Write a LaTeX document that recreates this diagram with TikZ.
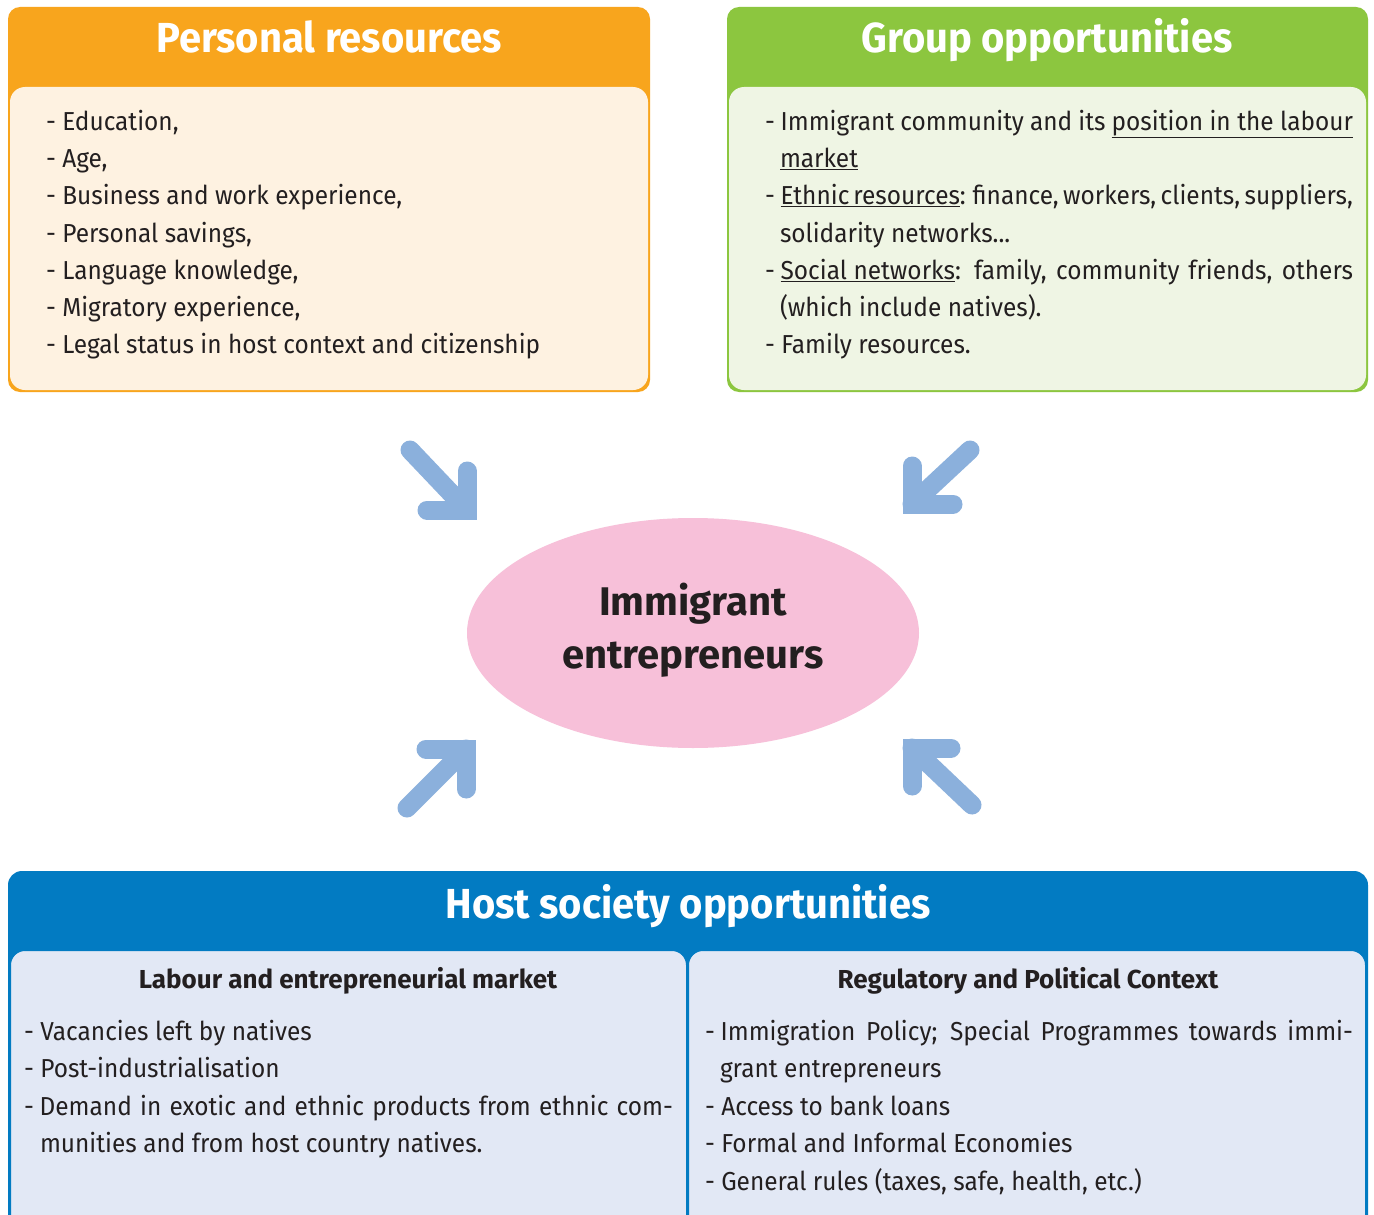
\documentclass[tikz,border=0pt]{standalone}
\usepackage{fontspec}
\setmainfont[FakeStretch=0.94]{Fira Sans}
\newfontfamily\headfont[FakeStretch=0.95]{Fira Sans}
\newfontfamily\plainfont{Fira Sans}
\usetikzlibrary{shapes.geometric}
\definecolor{orangeH}{HTML}{F8A51D}
\definecolor{creamP}{HTML}{FEF2E1}
\definecolor{greenH}{HTML}{8CC63F}
\definecolor{greenP}{HTML}{EFF5E4}
\definecolor{blueH}{HTML}{027BC2}
\definecolor{blueP}{HTML}{E2E8F5}
\definecolor{pinkE}{HTML}{F7C0D9}
\definecolor{arrowB}{HTML}{8BB0DC}
\definecolor{ink}{HTML}{231F20}
\newcommand\dsh{\mbox{-\kern5.8pt}}
\begin{document}
\begin{tikzpicture}[x=1pt,y=-1pt,
  every node/.style={inner sep=0pt, outer sep=0pt},
  boxouter/.style={rounded corners=12pt, anchor=north west},
  panel/.style={rounded corners=15pt, anchor=north west},
  titletext/.style={anchor=base, text=white, font=\headfont\bfseries\fontsize{42}{50}\selectfont},
  subhead/.style={anchor=base, text=ink, font=\plainfont\bfseries\fontsize{26}{30}\selectfont},
  centretext/.style={anchor=base, text=ink, font=\plainfont\bfseries\fontsize{40}{48}\selectfont},
  body/.style={anchor=base west, text=ink, font=\fontsize{26}{30}\selectfont},
  arrowline/.style={draw=arrowB, line width=19pt, line cap=round, line join=miter}
]
\clip (0,0) rectangle (1374,1215);
\fill[white] (0,0) rectangle (1374,1215);

% ---------- Personal resources ----------
\node[boxouter, fill=orangeH, minimum width=642pt, minimum height=385pt] (pr) at (8,7) {};
\node[panel, fill=creamP, minimum width=638pt, minimum height=303pt] (prp) at (10,87) {};
\node[titletext] (prt) at (329,53) {Personal resources};
\node[body] (pr1) at (46,130) {- Education,};
\node[body] (pr2) at (46,167) {- Age,};
\node[body] (pr3) at (46,204) {- Business and work experience,};
\node[body] (pr4) at (46,242) {- Personal savings,};
\node[body] (pr5) at (46,279) {- Language knowledge,};
\node[body] (pr6) at (46,316) {- Migratory experience,};
\node[body] (pr7) at (46,353) {- Legal status in host context and citizenship};

% ---------- Group opportunities ----------
\node[boxouter, fill=greenH, minimum width=641pt, minimum height=385pt] (go) at (727,7) {};
\node[panel, fill=greenP, minimum width=637pt, minimum height=303pt] (gop) at (729,87) {};
\node[titletext] (got) at (1047,53) {Group opportunities};
\node[body] (go1) at (765,130) {\makebox[588pt][s]{\dsh Immigrant community and its \underline{position in the labour}}};
\node[body] (go2) at (780,167) {\underline{market}};
\node[body] (go3) at (765,204) {\makebox[588pt][s]{\spaceskip=4pt plus 20pt minus 1pt\dsh\underline{Ethnic resources}: finance, workers, clients, suppliers,}};
\node[body] (go4) at (780,242) {solidarity networks...};
\node[body] (go5) at (765,279) {\makebox[588pt][s]{\dsh\underline{Social\ networks}: family, community friends, others}};
\node[body] (go6) at (780,316) {(which include natives).};
\node[body] (go7) at (765,353) {- Family resources.};

% ---------- Centre ----------
\node[ellipse, fill=pinkE, minimum width=452pt, minimum height=230pt] (ie) at (693,633) {};
\node[centretext] (ie1) at (693,615) {Immigrant};
\node[centretext] (ie2) at (693,668) {entrepreneurs};

% ---------- Arrows ----------
\coordinate (a1s) at (410,450); \coordinate (a1c) at (467,510);
\coordinate (a1h) at (427,510); \coordinate (a1v) at (467,471);
\coordinate (a2s) at (970,450); \coordinate (a2c) at (912,504);
\coordinate (a2h) at (953,504); \coordinate (a2v) at (912,466);
\coordinate (a3s) at (407,808); \coordinate (a3c) at (466,749);
\coordinate (a3h) at (426,749); \coordinate (a3v) at (466,789);
\coordinate (a4s) at (972,805); \coordinate (a4c) at (912,748);
\coordinate (a4h) at (951,748); \coordinate (a4v) at (912,786);
\foreach \a in {a1,a2,a3,a4}{
  \draw[arrowline] (\a s) -- (\a c);
  \draw[arrowline] (\a h) -- (\a c) -- (\a v);
}

% ---------- Host society opportunities ----------
\node[boxouter, fill=blueH, minimum width=1360pt, minimum height=400pt, rounded corners=14pt] (hs) at (8,871) {};
\node[panel, fill=blueP, draw=blueH, line width=2pt, minimum width=677pt, minimum height=320pt] (hsl) at (10,950) {};
\node[panel, fill=blueP, draw=blueH, line width=2pt, minimum width=678pt, minimum height=320pt] (hsr) at (688,950) {};
\node[titletext] (hst) at (688,918) {Host society opportunities};

\node[subhead] (hl0) at (348,988) {Labour and entrepreneurial market};
\node[body] (hl1) at (24,1040) {- Vacancies left by natives};
\node[body] (hl2) at (24,1077) {- Post-industrialisation};
\node[body] (hl3) at (24,1115) {\makebox[649pt][s]{\dsh Demand in exotic and ethnic products from ethnic com-}};
\node[body] (hl4) at (40,1152) {munities and from host country natives.};

\node[subhead] (hr0) at (1028,988) {Regulatory and Political Context};
\node[body] (hr1) at (705,1040) {\makebox[648pt][s]{\dsh Immigration Policy; Special Programmes towards immi-}};
\node[body] (hr2) at (720,1077) {grant entrepreneurs};
\node[body] (hr3) at (705,1115) {- Access to bank loans};
\node[body] (hr4) at (705,1152) {- Formal and Informal Economies};
\node[body] (hr5) at (705,1190) {- General rules (taxes, safe, health, etc.)};
\end{tikzpicture}
\end{document}
